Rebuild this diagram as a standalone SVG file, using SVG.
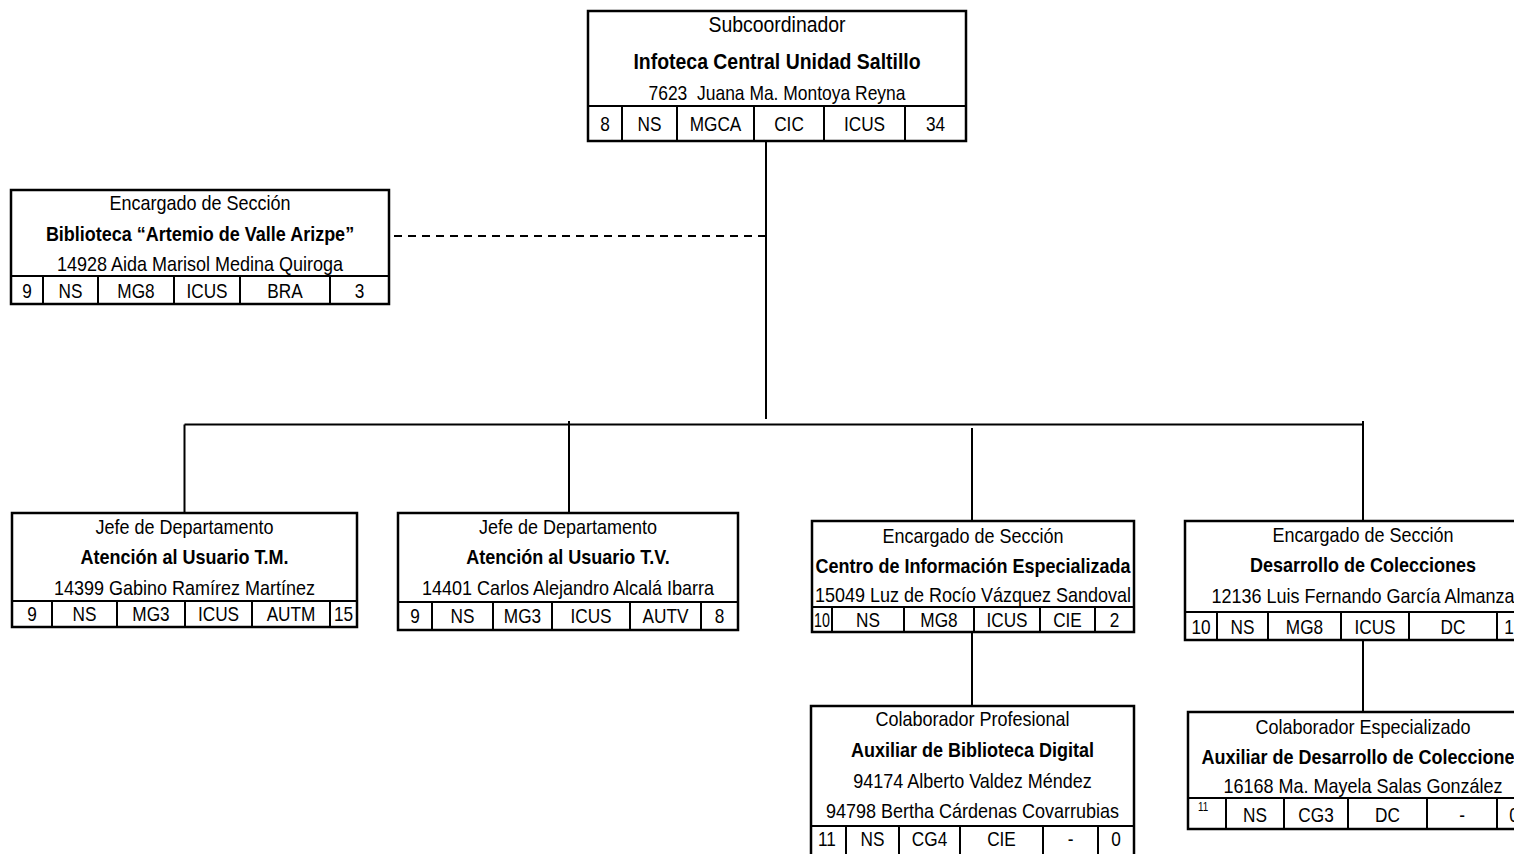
<svg xmlns="http://www.w3.org/2000/svg" width="1514" height="854" viewBox="0 0 1514 854">
<style>
.box{fill:#fff;stroke:#000;stroke-width:2.5}
.dv{fill:none;stroke:#000;stroke-width:2}
.conn{fill:none;stroke:#000;stroke-width:2}
.dash{stroke-dasharray:8 6}
.t{font-family:"Liberation Sans",Arial,sans-serif;font-size:20px;text-anchor:middle;fill:#000}
.big{font-size:21.6px}
.nm{font-size:19.4px}
.b{font-weight:bold}
.c{font-family:"Liberation Sans",Arial,sans-serif;font-size:21px;text-anchor:middle;fill:#000}
.sm{font-size:12px}
</style>
<rect width="1514" height="854" fill="#fff"/>
<g id="connectors">
<path class="conn" d="M766 141V419"/>
<path class="conn dash" d="M394 236H766"/>
<path class="conn" d="M184.5 424.5H1363"/>
<path class="conn" d="M184.5 424.5V513M569 421V513M972 428V521M1363 421V521"/>
<path class="conn" d="M972 632V706"/>
<path class="conn" d="M1363 640V712"/>
</g>
<g id="n-subcoordinador">
<rect class="box" x="588" y="11" width="378" height="130"/>
<path class="dv" d="M588 106H966M622 106V141M677 106V141M754 106V141M824 106V141M905 106V141"/>
<text class="t big" transform="translate(777 32) scale(.9 1)">Subcoordinador</text>
<text class="t big b" transform="translate(777 69) scale(.9 1)">Infoteca Central Unidad Saltillo</text>
<text class="t nm" transform="translate(777 100) scale(.9 1)">7623&#160; Juana Ma. Montoya Reyna</text>
<text class="c" transform="translate(605 131) scale(.82 1)">8</text>
<text class="c" transform="translate(649.5 131) scale(.82 1)">NS</text>
<text class="c" transform="translate(715.5 131) scale(.82 1)">MGCA</text>
<text class="c" transform="translate(789 131) scale(.82 1)">CIC</text>
<text class="c" transform="translate(864.5 131) scale(.82 1)">ICUS</text>
<text class="c" transform="translate(935.5 131) scale(.82 1)">34</text>
</g>
<g id="n-biblioteca">
<rect class="box" x="11" y="190" width="378" height="114"/>
<path class="dv" d="M11 276H389M43 276V304M98 276V304M174 276V304M240 276V304M330 276V304"/>
<text class="t" transform="translate(200 210) scale(.9 1)">Encargado de Sección</text>
<text class="t b" transform="translate(200 241) scale(.9 1)">Biblioteca “Artemio de Valle Arizpe”</text>
<text class="t" transform="translate(200 271) scale(.9 1)">14928 Aida Marisol Medina Quiroga</text>
<text class="c" transform="translate(27 298) scale(.82 1)">9</text>
<text class="c" transform="translate(70.5 298) scale(.82 1)">NS</text>
<text class="c" transform="translate(136 298) scale(.82 1)">MG8</text>
<text class="c" transform="translate(207 298) scale(.82 1)">ICUS</text>
<text class="c" transform="translate(285 298) scale(.82 1)">BRA</text>
<text class="c" transform="translate(359.5 298) scale(.82 1)">3</text>
</g>
<g id="n-atencion-tm">
<rect class="box" x="12" y="513" width="345" height="114"/>
<path class="dv" d="M12 601H357M52 601V627M117 601V627M185 601V627M252 601V627M330 601V627"/>
<text class="t" transform="translate(184.5 534) scale(.9 1)">Jefe de Departamento</text>
<text class="t b" transform="translate(184.5 564) scale(.9 1)">Atención al Usuario T.M.</text>
<text class="t" transform="translate(184.5 595) scale(.9 1)">14399 Gabino Ramírez Martínez</text>
<text class="c" transform="translate(32 621) scale(.82 1)">9</text>
<text class="c" transform="translate(84.5 621) scale(.82 1)">NS</text>
<text class="c" transform="translate(151 621) scale(.82 1)">MG3</text>
<text class="c" transform="translate(218.5 621) scale(.82 1)">ICUS</text>
<text class="c" transform="translate(291 621) scale(.82 1)">AUTM</text>
<text class="c" transform="translate(343.5 621) scale(.82 1)">15</text>
</g>
<g id="n-atencion-tv">
<rect class="box" x="398" y="513" width="340" height="117"/>
<path class="dv" d="M398 602H738M432 602V630M493 602V630M552 602V630M630 602V630M701 602V630"/>
<text class="t" transform="translate(568 534) scale(.9 1)">Jefe de Departamento</text>
<text class="t b" transform="translate(568 564) scale(.9 1)">Atención al Usuario T.V.</text>
<text class="t" transform="translate(568 595) scale(.9 1)">14401 Carlos Alejandro Alcalá Ibarra</text>
<text class="c" transform="translate(415 623) scale(.82 1)">9</text>
<text class="c" transform="translate(462.5 623) scale(.82 1)">NS</text>
<text class="c" transform="translate(522.5 623) scale(.82 1)">MG3</text>
<text class="c" transform="translate(591 623) scale(.82 1)">ICUS</text>
<text class="c" transform="translate(665.5 623) scale(.82 1)">AUTV</text>
<text class="c" transform="translate(719.5 623) scale(.82 1)">8</text>
</g>
<g id="n-cie">
<rect class="box" x="812" y="521" width="322" height="111"/>
<path class="dv" d="M812 607H1134M832 607V632M904 607V632M974 607V632M1040 607V632M1095 607V632"/>
<text class="t" transform="translate(973 543) scale(.9 1)">Encargado de Sección</text>
<text class="t b" transform="translate(973 573) scale(.9 1)">Centro de Información Especializada</text>
<text class="t" transform="translate(973 602) scale(.9 1)">15049 Luz de Rocío Vázquez Sandoval</text>
<text class="c" transform="translate(822 627) scale(.68 1)">10</text>
<text class="c" transform="translate(868 627) scale(.82 1)">NS</text>
<text class="c" transform="translate(939 627) scale(.82 1)">MG8</text>
<text class="c" transform="translate(1007 627) scale(.82 1)">ICUS</text>
<text class="c" transform="translate(1067.5 627) scale(.82 1)">CIE</text>
<text class="c" transform="translate(1114.5 627) scale(.82 1)">2</text>
</g>
<g id="n-desarrollo">
<rect class="box" x="1185" y="521" width="356" height="119"/>
<path class="dv" d="M1185 612H1541M1217 612V640M1268 612V640M1341 612V640M1409 612V640M1497 612V640"/>
<text class="t" transform="translate(1363 542) scale(.9 1)">Encargado de Sección</text>
<text class="t b" transform="translate(1363 572) scale(.9 1)">Desarrollo de Colecciones</text>
<text class="t" transform="translate(1363 603) scale(.9 1)">12136 Luis Fernando García Almanza</text>
<text class="c" transform="translate(1201 634) scale(.82 1)">10</text>
<text class="c" transform="translate(1242.5 634) scale(.82 1)">NS</text>
<text class="c" transform="translate(1304.5 634) scale(.82 1)">MG8</text>
<text class="c" transform="translate(1375 634) scale(.82 1)">ICUS</text>
<text class="c" transform="translate(1453 634) scale(.82 1)">DC</text>
<text class="c" transform="translate(1509 634) scale(.82 1)">1</text>
</g>
<g id="n-aux-biblioteca-digital">
<rect class="box" x="811" y="706" width="323" height="170"/>
<path class="dv" d="M811 826H1134M846 826V876M899 826V876M960 826V876M1043 826V876M1098 826V876"/>
<text class="t" transform="translate(972.5 726) scale(.9 1)">Colaborador Profesional</text>
<text class="t b" transform="translate(972.5 757) scale(.9 1)">Auxiliar de Biblioteca Digital</text>
<text class="t" transform="translate(972.5 788) scale(.9 1)">94174 Alberto Valdez Méndez</text>
<text class="t" transform="translate(972.5 818) scale(.9 1)">94798 Bertha Cárdenas Covarrubias</text>
<text class="c" transform="translate(827 846) scale(.82 1)">11</text>
<text class="c" transform="translate(872.5 846) scale(.82 1)">NS</text>
<text class="c" transform="translate(929.5 846) scale(.82 1)">CG4</text>
<text class="c" transform="translate(1001.5 846) scale(.82 1)">CIE</text>
<text class="c" transform="translate(1070.5 846) scale(.82 1)">-</text>
<text class="c" transform="translate(1116 846) scale(.82 1)">0</text>
</g>
<g id="n-aux-desarrollo">
<rect class="box" x="1188" y="712" width="352" height="117"/>
<path class="dv" d="M1188 798H1540M1226 798V829M1284 798V829M1348 798V829M1427 798V829M1497 798V829"/>
<text class="t" transform="translate(1363 734) scale(.9 1)">Colaborador Especializado</text>
<text class="t b" transform="translate(1363 764) scale(.9 1)">Auxiliar de Desarrollo de Colecciones</text>
<text class="t" transform="translate(1363 793) scale(.9 1)">16168 Ma. Mayela Salas González</text>
<text class="c sm" transform="translate(1203 811) scale(.82 1)">11</text>
<text class="c" transform="translate(1255 822) scale(.82 1)">NS</text>
<text class="c" transform="translate(1316 822) scale(.82 1)">CG3</text>
<text class="c" transform="translate(1387.5 822) scale(.82 1)">DC</text>
<text class="c" transform="translate(1462 822) scale(.82 1)">-</text>
<text class="c" transform="translate(1514 822) scale(.82 1)">0</text>
</g>
</svg>
